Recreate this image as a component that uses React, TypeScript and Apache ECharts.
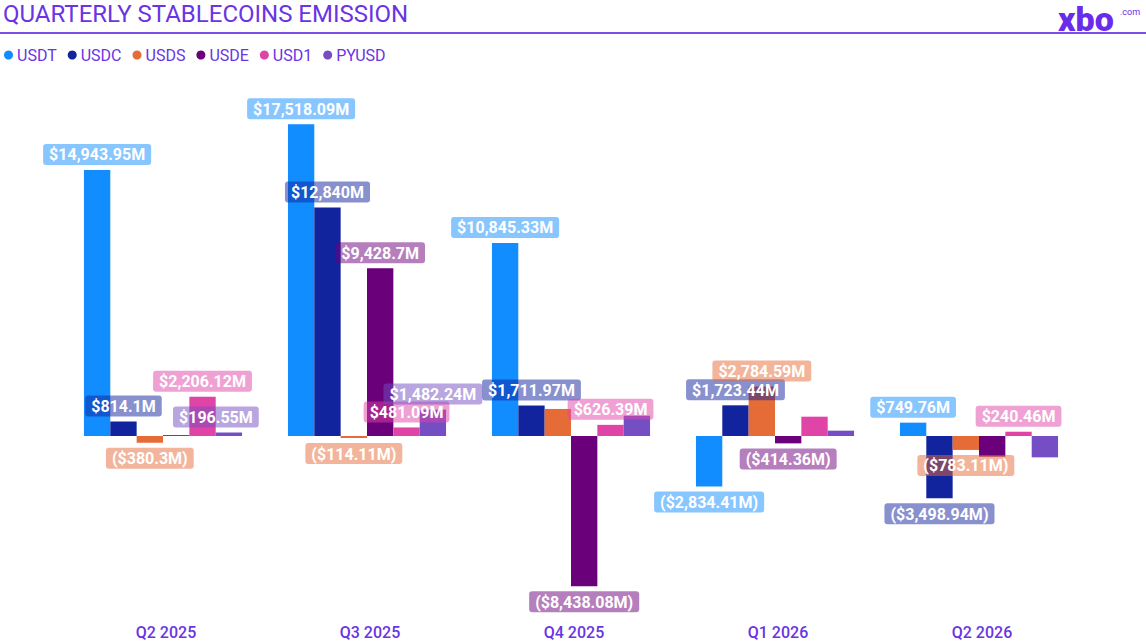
import React, { useEffect, useRef } from "react";
import * as echarts from "echarts";

const categories = ["Q2 2025", "Q3 2025", "Q4 2025", "Q1 2026", "Q2 2026"];
const seriesNames = ["USDT", "USDC", "USDS", "USDE", "USD1", "PYUSD"];
const usdt = [14943.95, 17518.09, 10845.33, -2834.41, 749.76];
const usdc = [814.1, 12840, 1711.97, 1723.44, -3498.94];
const usds = [-380.3, -114.11, 1520, 2784.59, -783.11];
const usde = [45, 9428.7, -8438.08, -414.36, -1160];
const usd1 = [2206.12, 481.09, 626.39, 1085, 240.46];
const pyusd = [196.55, 1482.24, 1140, 300, -1200];
const labelShown = [
  [true, true, true, true, true],
  [true, true, true, true, true],
  [true, true, false, true, true],
  [false, true, true, true, false],
  [true, true, true, false, true],
  [true, true, false, false, false],
];
const colors = ["#118DFF", "#12239E", "#E66C37", "#6B007B", "#E044A7", "#744EC2"];
const labelBg = [
  "rgba(17,141,255,0.5)",
  "rgba(18,35,158,0.5)",
  "rgba(230,108,55,0.5)",
  "rgba(107,0,123,0.5)",
  "rgba(224,68,167,0.5)",
  "rgba(116,78,194,0.5)",
];
const allValues = [usdt, usdc, usds, usde, usd1, pyusd];

const PURPLE = "#6A34E4";

function fmt(v: number): string {
  const s = Math.abs(v).toLocaleString("en-US", { maximumFractionDigits: 2 });
  return v < 0 ? `($${s}M)` : `$${s}M`;
}

export default function App() {
  const ref = useRef<HTMLDivElement>(null);
  useEffect(() => {
    if (!ref.current) return;
    const chart = echarts.init(ref.current, null, { renderer: "svg" });
    const series = seriesNames.map((name, si) => ({
      name,
      type: "bar",
      barGap: "0%",
      barCategoryGap: "22.5%",
      itemStyle: { color: colors[si] },
      label: {
        show: true,
        color: "#fff",
        fontWeight: "bold",
        fontSize: 16,
        fontFamily: "Roboto",
        backgroundColor: labelBg[si],
        padding: [3, 6, 2, 6],
        borderRadius: 3,
        distance: 5,
        formatter: (p: any) => fmt(p.value),
      },
      data: allValues[si].map((v, i) => ({
        value: v,
        label: {
          show: labelShown[si][i],
          position: v >= 0 ? "top" : "bottom",
          offset: si === 5 && i === 0 ? [-13, 0] : [0, 0],
        },
      })),
    }));
    chart.setOption({
      animation: false,
      color: colors,
      legend: {
        data: seriesNames,
        left: 4,
        top: 47,
        icon: "circle",
        itemWidth: 9,
        itemHeight: 9,
        itemGap: 11,
        padding: 0,
        textStyle: {
          color: PURPLE,
          fontSize: 16,
          fontFamily: "Roboto",
          padding: [0, 0, 0, -1],
        },
      },
      grid: { left: 61, width: 1020, top: 80, height: 534 },
      xAxis: {
        type: "category",
        data: categories,
        axisLine: { show: false, onZero: false },
        axisTick: { show: false },
        axisLabel: {
          color: PURPLE,
          fontSize: 16,
          fontWeight: 500,
          fontFamily: "Roboto",
          margin: 10,
          padding: [0, 0, 0, 6],
        },
      },
      yAxis: {
        type: "value",
        min: -10000,
        max: 20000,
        show: false,
        splitLine: { show: false },
      },
      graphic: [
        {
          type: "text",
          left: 3,
          top: 2,
          style: { text: "QUARTERLY STABLECOINS EMISSION", fill: PURPLE, fontSize: 24, fontFamily: "Roboto" },
        },
        {
          type: "rect",
          shape: { x: 0, y: 32, width: 1146, height: 2 },
          style: { fill: "#7A4DE8" },
        },
        {
          type: "text",
          left: 1058,
          top: 2,
          style: { text: "xbo", fill: "#6A2BEA", fontSize: 34, fontWeight: 900, fontFamily: "Roboto" },
        },
        {
          type: "text",
          left: 1120,
          top: 7,
          style: { text: ".com", fill: "#6A2BEA", fontSize: 9, fontFamily: "Roboto" },
        },
      ],
      series,
    });
    return () => chart.dispose();
  }, []);
  return (
    <div
      ref={ref}
      style={{ position: "fixed", left: 0, top: 0, width: 1146, height: 643, background: "#fff" }}
    />
  );
}
